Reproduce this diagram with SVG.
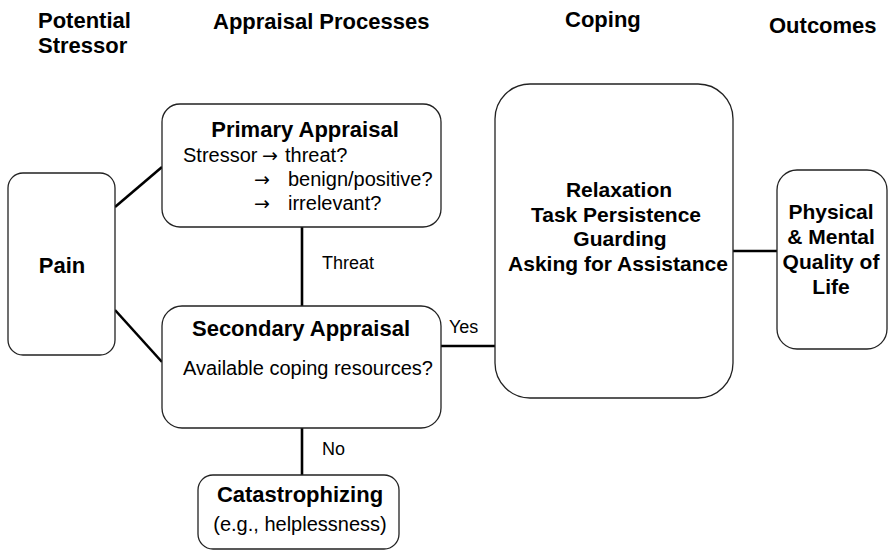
<svg xmlns="http://www.w3.org/2000/svg" width="888" height="550" viewBox="0 0 888 550">
<style>
text{font-family:"Liberation Sans",Arial,sans-serif;fill:#000}
.h{font-size:22px;font-weight:bold}
.t{font-size:22px;font-weight:bold;text-anchor:middle}
.c{font-size:21px;font-weight:bold;text-anchor:middle}
.r{font-size:20px}
.rc{font-size:20px;text-anchor:middle}
.l{font-size:18px}
.ar{font-family:"DejaVu Sans",sans-serif;font-size:19px}
.box{fill:#fff;stroke:#222;stroke-width:1.3}
.conn line{stroke:#000;stroke-width:2.6}
</style>
<rect width="888" height="550" fill="#fff"/>
<g id="headers">
<text class="h" x="38" y="28">Potential</text>
<text class="h" x="38" y="53">Stressor</text>
<text class="h" x="213" y="29">Appraisal Processes</text>
<text class="h" x="565" y="27">Coping</text>
<text class="h" x="769" y="33">Outcomes</text>
</g>
<g class="conn" id="connectors">
<line x1="115" y1="207" x2="162" y2="167"/>
<line x1="115" y1="310" x2="162" y2="362"/>
<line x1="302" y1="227" x2="302" y2="306"/>
<line x1="302" y1="428" x2="302" y2="475"/>
<line x1="441" y1="346" x2="495" y2="346"/>
<line x1="733" y1="251" x2="777" y2="251"/>
<text class="l" x="322" y="269">Threat</text>
<text class="l" x="449" y="333">Yes</text>
<text class="l" x="322" y="455">No</text>
</g>
<g id="pain">
<rect class="box" x="8" y="173" width="107" height="182" rx="15"/>
<text class="t" x="62" y="273">Pain</text>
</g>
<g id="primary">
<rect class="box" x="162" y="104" width="279" height="123" rx="18"/>
<text class="t" x="305" y="137">Primary Appraisal</text>
<text class="r" x="183" y="162">Stressor<tspan class="ar" x="262">→</tspan><tspan x="285">threat?</tspan></text>
<text class="r" x="254" y="186"><tspan class="ar">→</tspan><tspan x="288">benign/positive?</tspan></text>
<text class="r" x="254" y="210"><tspan class="ar">→</tspan><tspan x="288">irrelevant?</tspan></text>
</g>
<g id="secondary">
<rect class="box" x="162" y="306" width="279" height="122" rx="20"/>
<text class="t" x="301" y="336">Secondary Appraisal</text>
<text class="rc" x="308" y="375">Available coping resources?</text>
</g>
<g id="catastrophizing">
<rect class="box" x="198" y="475" width="201" height="74" rx="15"/>
<text class="t" x="300" y="502">Catastrophizing</text>
<text class="rc" x="300" y="531">(e.g., helplessness)</text>
</g>
<g id="coping">
<rect class="box" x="495" y="84" width="238" height="314" rx="35"/>
<text class="c" x="619" y="197">Relaxation</text>
<text class="c" x="616" y="222">Task Persistence</text>
<text class="c" x="620" y="246">Guarding</text>
<text class="c" x="618" y="271">Asking for Assistance</text>
</g>
<g id="outcomes">
<rect class="box" x="777" y="170" width="110" height="179" rx="20"/>
<text class="c" x="831" y="219">Physical</text>
<text class="c" x="831" y="244">&amp; Mental</text>
<text class="c" x="831" y="269">Quality of</text>
<text class="c" x="831" y="294">Life</text>
</g>
</svg>
